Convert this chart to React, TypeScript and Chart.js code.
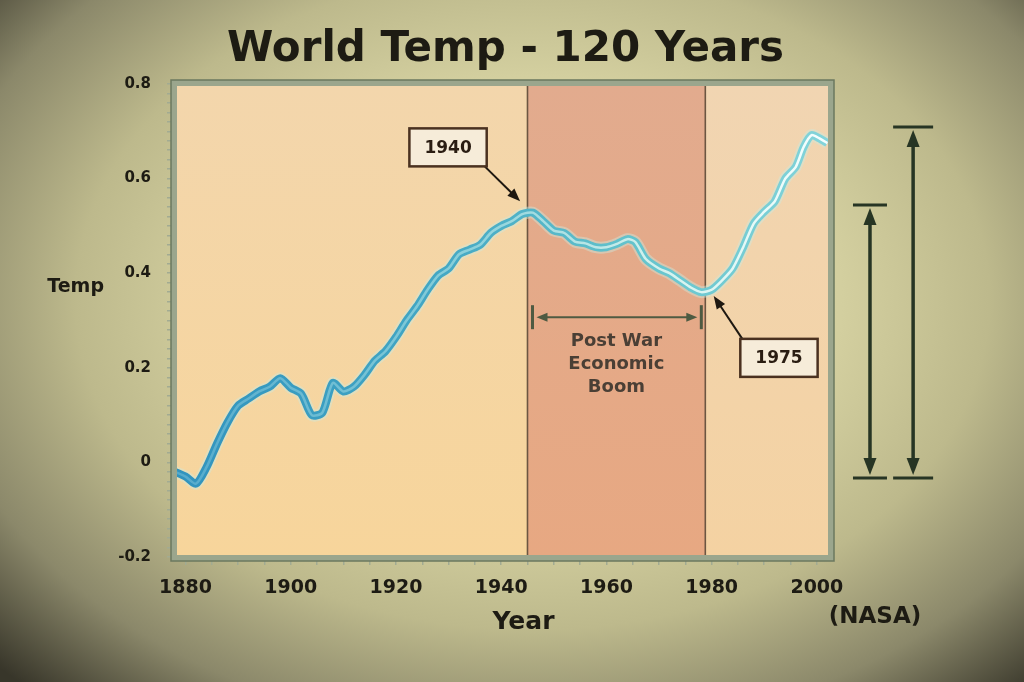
import React, { useEffect, useRef } from 'react';
import { Chart, registerables } from 'chart.js';

Chart.register(...registerables);

// ---- data ----
const years = [
  1878, 1880, 1882, 1884, 1886, 1888, 1890, 1892, 1894, 1896, 1898, 1900, 1902, 1904, 1906, 1908,
  1910, 1912, 1914, 1916, 1918, 1920, 1922, 1924, 1926, 1928, 1930, 1932, 1934, 1936, 1938, 1940,
  1942, 1944, 1946, 1948, 1950, 1952, 1954, 1956, 1958, 1960, 1962, 1964, 1965.5, 1967.5, 1970,
  1972, 1974, 1976, 1978, 1980, 1982, 1984, 1986, 1988, 1990, 1992, 1994, 1996, 1997.5, 1999,
  2000.5, 2002,
];
const temps = [
  -0.02, -0.03, -0.045, -0.01, 0.04, 0.085, 0.12, 0.135, 0.15, 0.16, 0.178, 0.158, 0.145, 0.1,
  0.105, 0.168, 0.15, 0.16, 0.185, 0.215, 0.235, 0.265, 0.3, 0.33, 0.365, 0.395, 0.41, 0.44, 0.45,
  0.46, 0.485, 0.5, 0.51, 0.525, 0.528, 0.51, 0.49, 0.485, 0.467, 0.463, 0.455, 0.455, 0.462,
  0.472, 0.466, 0.43, 0.41, 0.4, 0.385, 0.37, 0.36, 0.365, 0.385, 0.41, 0.455, 0.505, 0.53, 0.552,
  0.6, 0.625, 0.667, 0.692, 0.685, 0.675,
];
const xTickYears = [1880, 1900, 1920, 1940, 1960, 1980, 2000];
const yTickValues = [-0.2, 0, 0.2, 0.4, 0.6, 0.8];
const xRange = [1878, 2002.5];
const yRange = [-0.2, 0.8];
const boomBand = [1945, 1978.8];
const boomLabelLines = ['Post War', 'Economic', 'Boom'];
const boomArrowTemp = 0.307;
const calloutLabels = ['1940', '1975'];
const calloutBoxYears = [1929.9, 1992.8];
const calloutBoxTemps = [0.666, 0.221];
const calloutTipYears = [1943.6, 1980.4];
const calloutTipTemps = [0.552, 0.352];
const rangeArrowYears = [2010.1, 2018.3];
const rangeArrowLows = [-0.033, -0.033];
const rangeArrowHighs = [0.544, 0.709];
const titleText = 'World Temp - 120 Years';
const yAxisLabel = 'Temp';
const xAxisLabel = 'Year';
const sourceLabel = '(NASA)';

const FONT = '"DejaVu Sans", sans-serif';
const INK = '#1d1b13';

function arrowHead(ctx: CanvasRenderingContext2D, tx: number, ty: number, fx: number, fy: number, len: number, wid: number) {
  const ang = Math.atan2(ty - fy, tx - fx);
  const bx = tx - len * Math.cos(ang);
  const by = ty - len * Math.sin(ang);
  ctx.beginPath();
  ctx.moveTo(tx, ty);
  ctx.lineTo(bx + (wid / 2) * Math.sin(ang), by - (wid / 2) * Math.cos(ang));
  ctx.lineTo(bx - (wid / 2) * Math.sin(ang), by + (wid / 2) * Math.cos(ang));
  ctx.closePath();
  ctx.fill();
}

const decorPlugin = {
  id: 'decor',
  beforeDatasetsDraw(chart: any) {
    const { ctx, chartArea: a, scales } = chart;
    const x = scales.x;
    const x0 = x.getPixelForValue(boomBand[0]);
    const x1 = x.getPixelForValue(boomBand[1]);
    ctx.save();
    let g = ctx.createLinearGradient(0, a.top, 0, a.bottom);
    g.addColorStop(0, '#f3d6ac');
    g.addColorStop(1, '#f7d59b');
    ctx.fillStyle = g;
    ctx.fillRect(a.left, a.top, x0 - a.left, a.height);
    g = ctx.createLinearGradient(0, a.top, 0, a.bottom);
    g.addColorStop(0, '#e2ab8e');
    g.addColorStop(1, '#e7a882');
    ctx.fillStyle = g;
    ctx.fillRect(x0, a.top, x1 - x0, a.height);
    g = ctx.createLinearGradient(0, a.top, 0, a.bottom);
    g.addColorStop(0, '#f1d5b2');
    g.addColorStop(1, '#f4d2a2');
    ctx.fillStyle = g;
    ctx.fillRect(x1, a.top, a.right - x1, a.height);
    ctx.strokeStyle = '#6c5642';
    ctx.lineWidth = 1.6;
    [x0, x1].forEach((px) => {
      ctx.beginPath();
      ctx.moveTo(px, a.top);
      ctx.lineTo(px, a.bottom);
      ctx.stroke();
    });
    ctx.restore();
  },
  afterDatasetsDraw(chart: any) {
    const { ctx, chartArea: a, scales } = chart;
    const x = scales.x;
    const y = scales.y;
    ctx.save();

    // frame
    ctx.strokeStyle = '#9ba68d';
    ctx.lineWidth = 6;
    ctx.strokeRect(a.left - 1, a.top - 1, a.width + 2, a.height + 2);
    ctx.strokeStyle = '#6b785f';
    ctx.lineWidth = 1.5;
    ctx.strokeRect(a.left - 4, a.top - 4, a.width + 8, a.height + 8);

    // callouts
    ctx.font = `bold 17px ${FONT}`;
    ctx.textAlign = 'center';
    ctx.textBaseline = 'middle';
    calloutLabels.forEach((lab, i) => {
      const bx = x.getPixelForValue(calloutBoxYears[i]);
      const by = y.getPixelForValue(calloutBoxTemps[i]);
      const tx = x.getPixelForValue(calloutTipYears[i]);
      const ty = y.getPixelForValue(calloutTipTemps[i]);
      const w = ctx.measureText(lab).width + 30;
      const h = 38;
      const sx = tx > bx ? bx + w / 2 - 2 : bx - w / 2 + 2;
      const sy = ty > by ? by + h / 2 : by - h / 2;
      ctx.strokeStyle = '#1e1811';
      ctx.fillStyle = '#1e1811';
      ctx.lineWidth = 2;
      const ang = Math.atan2(ty - sy, tx - sx);
      ctx.beginPath();
      ctx.moveTo(sx, sy);
      ctx.lineTo(tx - 10 * Math.cos(ang), ty - 10 * Math.sin(ang));
      ctx.stroke();
      arrowHead(ctx, tx, ty, sx, sy, 13, 10);
      ctx.fillStyle = '#f6ecd9';
      ctx.fillRect(bx - w / 2, by - h / 2, w, h);
      ctx.strokeStyle = '#4a3120';
      ctx.lineWidth = 2.5;
      ctx.strokeRect(bx - w / 2, by - h / 2, w, h);
      ctx.fillStyle = '#2a1d12';
      ctx.fillText(lab, bx, by + 1);
    });

    // post-war double arrow
    const x0 = x.getPixelForValue(boomBand[0]);
    const x1 = x.getPixelForValue(boomBand[1]);
    const py = y.getPixelForValue(boomArrowTemp);
    ctx.strokeStyle = '#4e5a42';
    ctx.fillStyle = '#4e5a42';
    ctx.lineWidth = 3;
    [x0 + 5, x1 - 4].forEach((ex) => {
      ctx.beginPath();
      ctx.moveTo(ex, py - 12);
      ctx.lineTo(ex, py + 12);
      ctx.stroke();
    });
    ctx.lineWidth = 2;
    ctx.beginPath();
    ctx.moveTo(x0 + 14, py);
    ctx.lineTo(x1 - 13, py);
    ctx.stroke();
    arrowHead(ctx, x0 + 9, py, x1, py, 11, 9);
    arrowHead(ctx, x1 - 8, py, x0, py, 11, 9);

    ctx.fillStyle = '#4a3f35';
    ctx.font = `bold 18px ${FONT}`;
    ctx.textAlign = 'center';
    ctx.textBaseline = 'middle';
    const cx = (x0 + x1) / 2;
    boomLabelLines.forEach((line, i) => {
      ctx.fillText(line, cx, py + 24 + i * 23);
    });

    // range arrows at right
    ctx.strokeStyle = '#273524';
    ctx.fillStyle = '#273524';
    rangeArrowYears.forEach((yr, i) => {
      const px = x.getPixelForValue(yr);
      const top = y.getPixelForValue(rangeArrowHighs[i]);
      const bot = y.getPixelForValue(rangeArrowLows[i]);
      const half = i === 0 ? 17 : 20;
      ctx.lineWidth = 3;
      [top, bot].forEach((yy) => {
        ctx.beginPath();
        ctx.moveTo(px - half, yy);
        ctx.lineTo(px + half, yy);
        ctx.stroke();
      });
      ctx.lineWidth = 3.5;
      ctx.beginPath();
      ctx.moveTo(px, top + 14);
      ctx.lineTo(px, bot - 14);
      ctx.stroke();
      arrowHead(ctx, px, top + 3, px, bot, 17, 13);
      arrowHead(ctx, px, bot - 3, px, top, 17, 13);
    });

    // texts
    ctx.fillStyle = INK;
    ctx.textBaseline = 'middle';
    ctx.textAlign = 'center';
    ctx.font = `bold 42px ${FONT}`;
    ctx.fillText(titleText, (a.left + a.right) / 2 + 3, a.top - 34);
    ctx.font = `bold 25px ${FONT}`;
    ctx.fillText(xAxisLabel, (a.left + a.right) / 2 + 21, a.bottom + 65);
    ctx.font = `bold 23px ${FONT}`;
    ctx.fillText(sourceLabel, a.right + 45, a.bottom + 60);
    ctx.textAlign = 'right';
    ctx.font = `bold 19px ${FONT}`;
    ctx.fillText(yAxisLabel, a.left - 71, y.getPixelForValue(0.37));

    ctx.restore();
  },
};

function makeGradient(chart: any, stops: [number, string][], fallback: string) {
  const { ctx, chartArea } = chart;
  if (!chartArea) return fallback;
  const g = ctx.createLinearGradient(chartArea.left, 0, chartArea.right, 0);
  stops.forEach(([o, c]) => g.addColorStop(o, c));
  return g;
}

export default function App() {
  const canvasRef = useRef<HTMLCanvasElement | null>(null);

  useEffect(() => {
    const canvas = canvasRef.current;
    if (!canvas) return;
    const points = years.map((yr, i) => ({ x: yr, y: temps[i] }));
    const isYLabel = (v: number) => yTickValues.some((t) => Math.abs(t - v) < 1e-6);
    const chart = new Chart(canvas, {
      type: 'line',
      data: {
        datasets: [
          {
            data: points,
            borderWidth: 2.5,
            borderColor: (c: any) =>
              makeGradient(
                c.chart,
                [
                  [0, 'rgba(100,180,210,0.7)'],
                  [0.45, 'rgba(150,215,222,0.85)'],
                  [0.72, 'rgba(214,243,238,0.95)'],
                  [1, 'rgba(246,255,255,1)'],
                ],
                '#cfeeee'
              ),
            pointRadius: 0,
            tension: 0.25,
            fill: false,
          },
          {
            data: points,
            borderWidth: 8,
            borderColor: (c: any) =>
              makeGradient(
                c.chart,
                [
                  [0, '#3193be'],
                  [0.4, '#43a7c4'],
                  [0.7, '#64c3cc'],
                  [1, '#84d4da'],
                ],
                '#45a9c4'
              ),
            pointRadius: 0,
            tension: 0.25,
            fill: false,
          },
          {
            data: points,
            borderWidth: 12,
            borderColor: 'rgba(205,232,222,0.45)',
            pointRadius: 0,
            tension: 0.25,
            fill: false,
          },
        ],
      },
      options: {
        animation: false,
        responsive: false,
        maintainAspectRatio: false,
        events: [],
        layout: { padding: { top: 84, right: 194, bottom: 0, left: 0 } },
        plugins: {
          legend: { display: false },
          tooltip: { enabled: false },
          title: { display: false },
        },
        scales: {
          x: {
            type: 'linear',
            min: xRange[0],
            max: xRange[1],
            afterFit: (s: any) => {
              s.height = 125;
            },
            border: { display: false },
            grid: {
              drawOnChartArea: false,
              drawTicks: true,
              tickLength: 8,
              color: '#a2ab92',
              lineWidth: 1.5,
            },
            ticks: {
              stepSize: 5,
              includeBounds: false,
              autoSkip: false,
              maxRotation: 0,
              padding: 12,
              color: INK,
              font: { family: FONT, size: 19, weight: 'bold' },
              callback: (v: any) => (xTickYears.includes(Number(v)) ? String(v) : ''),
            },
          },
          y: {
            type: 'linear',
            min: yRange[0],
            max: yRange[1],
            afterFit: (s: any) => {
              s.width = 175;
            },
            border: { display: false },
            grid: {
              drawOnChartArea: false,
              drawTicks: true,
              tickLength: 8,
              color: '#a2ab92',
              lineWidth: 1.5,
            },
            ticks: {
              stepSize: 0.02,
              includeBounds: false,
              autoSkip: false,
              padding: 16,
              color: INK,
              font: { family: FONT, size: 15, weight: 'bold' },
              callback: (v: any) => {
                const n = Number(v);
                if (!isYLabel(n)) return '';
                return Math.abs(n) < 1e-6 ? '0' : n.toFixed(1);
              },
            },
          },
        },
      },
      plugins: [decorPlugin],
    } as any);
    return () => chart.destroy();
  }, []);

  return (
    <div
      style={{
        position: 'fixed',
        left: 0,
        top: 0,
        width: 1024,
        height: 682,
        background:
          'radial-gradient(ellipse 72% 78% at 52% 44%, #dad7ac 0%, #d3cf9f 42%, #bdb98c 62%, #8b886a 82%, #38362a 100%)',
        overflow: 'hidden',
      }}
    >
      <canvas ref={canvasRef} width={1024} height={682} style={{ display: 'block', width: 1024, height: 682 }} />
    </div>
  );
}
